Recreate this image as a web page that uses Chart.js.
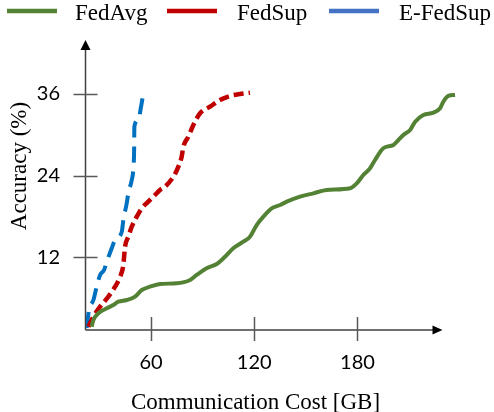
<!DOCTYPE html>
<html>
<head>
<meta charset="utf-8">
<script src="https://cdn.jsdelivr.net/npm/chart.js@4.4.1/dist/chart.umd.min.js"></script>
<style>
  html, body { margin: 0; padding: 0; background: #fff; }
  #wrap { width: 494px; height: 412px; }
</style>
</head>
<body>
<div id="wrap"><canvas id="chart"></canvas></div>
<script>
// Valores (custo em GB, acurácia em %)
const seriesNames = ['FedAvg', 'FedSup', 'E-FedSup'];

const fedAvgCost = [25.5, 26.5, 29.4, 34.3, 38.1, 41.0, 45.9, 50.7, 54.6, 59.4, 65.2, 74.9, 82.7, 86.5, 92.3, 98.2, 103.0, 107.8, 113.6, 117.5, 121.4, 125.3, 130.1, 135.0, 138.9, 146.6, 154.4, 162.1, 175.7, 179.6, 183.4, 187.3, 190.2, 195.0, 200.9, 203.8, 206.7, 210.6, 213.5, 218.3, 224.1, 228.0, 229.9, 232.8, 236.7];
const fedAvgAcc  = [1.85, 2.83, 3.81, 4.54, 5.03, 5.51, 5.76, 6.25, 7.23, 7.71, 8.11, 8.21, 8.7, 9.43, 10.41, 11.04, 12.11, 13.35, 14.31, 15.05, 16.76, 17.98, 19.21, 19.7, 20.18, 20.92, 21.41, 21.9, 22.15, 22.88, 24.1, 25.08, 26.3, 28.02, 28.5, 29.23, 29.97, 30.7, 31.92, 32.9, 33.24, 33.88, 34.85, 35.69, 35.83];

const fedSupCost = [23.6, 26.5, 30.4, 35.2, 39.1, 42.0, 43.9, 44.9, 46.8, 48.8, 51.7, 54.6, 58.4, 62.3, 65.2, 68.1, 73.0, 75.9, 77.8, 78.8, 81.7, 84.6, 88.5, 94.3, 100.1, 105.9, 111.7, 117.5];
const fedSupAcc  = [1.85, 3.31, 4.78, 6.25, 7.71, 9.18, 10.9, 13.58, 15.05, 16.51, 17.98, 19.21, 20.18, 21.16, 21.9, 22.38, 23.85, 25.32, 26.78, 28.25, 29.72, 31.43, 33.15, 34.12, 35.1, 35.69, 35.98, 36.17];

const eFedSupCost = [22.6, 23.97, 26.5, 28.4, 30.4, 32.7, 34.3, 37.2, 39.1, 43.0, 43.9, 45.9, 46.8, 48.8, 49.8, 50.2, 50.3, 52.6, 54.2, 55.5, 57.5];
const eFedSupAcc  = [1.65, 4.29, 5.76, 7.71, 9.43, 10.16, 11.38, 13.39, 14.56, 15.78, 17.5, 19.99, 21.46, 23.37, 25.32, 28.25, 31.18, 32.17, 34.12, 35.83, 36.32];

const xTicks = [60, 120, 180];
const yTicks = [12, 24, 36];

const lineColors   = ['#548235', '#C00000', '#0070C0'];
const legendColors = ['#548235', '#C00000', '#4472C4'];

const toPoints = (xs, ys) => xs.map((x, i) => ({ x, y: ys[i] }));

const serif = "'Liberation Serif', 'Times New Roman', serif";
const sans  = "Lato, 'Open Sans', sans-serif";

// Eixos com setas, marcas, legenda e títulos desenhados à mão
const decorPlugin = {
    id: 'decor',
    beforeDatasetsDraw: (chart) => {
        const { ctx, chartArea, scales } = chart;
        const x0 = 85.5, y0 = 330;
        ctx.save();
        ctx.strokeStyle = '#404040';
        ctx.lineWidth = 1.5;
        ctx.beginPath();
        ctx.moveTo(x0, y0);
        ctx.lineTo(x0, 48);
        ctx.moveTo(x0, y0);
        ctx.lineTo(434, y0);
        ctx.stroke();

        // marcas
        ctx.strokeStyle = '#595959';
        ctx.beginPath();
        yTicks.forEach(v => {
            const py = Math.round(scales.y.getPixelForValue(v)) + 0.5;
            ctx.moveTo(73.5, py);
            ctx.lineTo(97.5, py);
        });
        xTicks.forEach(v => {
            const px = Math.round(scales.x.getPixelForValue(v)) + 0.5;
            ctx.moveTo(px, 317);
            ctx.lineTo(px, 341);
        });
        ctx.stroke();

        // pontas de seta
        ctx.fillStyle = '#000';
        ctx.beginPath();
        ctx.moveTo(x0, 40);
        ctx.lineTo(x0 - 5, 50);
        ctx.lineTo(x0 + 5, 50);
        ctx.closePath();
        ctx.fill();
        ctx.beginPath();
        ctx.moveTo(442.5, y0);
        ctx.lineTo(432.5, y0 - 4.5);
        ctx.lineTo(432.5, y0 + 4.5);
        ctx.closePath();
        ctx.fill();
        ctx.restore();
    },
    afterDraw: (chart) => {
        const { ctx } = chart;
        ctx.save();

        // legenda
        const boxX  = [7, 167, 329];
        const textX = [75, 237, 399];
        ctx.font = '23px ' + serif;
        ctx.textBaseline = 'alphabetic';
        ctx.textAlign = 'left';
        seriesNames.forEach((name, i) => {
            ctx.strokeStyle = legendColors[i];
            ctx.lineWidth = 4.5;
            ctx.beginPath();
            ctx.moveTo(boxX[i], 11);
            ctx.lineTo(boxX[i] + 50, 11);
            ctx.stroke();
            ctx.fillStyle = '#000';
            ctx.fillText(name, textX[i], 19.5);
        });

        // títulos dos eixos
        ctx.fillStyle = '#000';
        ctx.textAlign = 'center';
        ctx.fillText('Communication Cost [GB]', 255.5, 408.5);
        ctx.translate(26, 166);
        ctx.rotate(-Math.PI / 2);
        ctx.fillText('Accuracy (%)', 0, 0);
        ctx.restore();
    }
};

new Chart(document.getElementById('chart'), {
    type: 'line',
    plugins: [decorPlugin],
    data: {
        datasets: [
            {
                label: seriesNames[0],
                data: toPoints(fedAvgCost, fedAvgAcc),
                borderColor: lineColors[0],
                borderWidth: 4,
                cubicInterpolationMode: 'monotone',
                pointRadius: 0
            },
            {
                label: seriesNames[1],
                data: toPoints(fedSupCost, fedSupAcc),
                borderColor: lineColors[1],
                borderWidth: 4.5,
                borderDash: [10, 5],
                cubicInterpolationMode: 'monotone',
                pointRadius: 0
            },
            {
                label: seriesNames[2],
                data: toPoints(eFedSupCost, eFedSupAcc),
                borderColor: lineColors[2],
                borderWidth: 4,
                borderDash: [16, 9],
                cubicInterpolationMode: 'monotone',
                pointRadius: 0
            }
        ]
    },
    options: {
        responsive: true,
        maintainAspectRatio: false,
        animation: false,
        events: [],
        layout: { padding: { top: 40, right: 24, left: 0, bottom: 0 } },
        plugins: {
            legend: { display: false },
            tooltip: { enabled: false }
        },
        scales: {
            x: {
                type: 'linear',
                min: 22.2,
                max: 245.4,
                grid: { display: false, drawTicks: false },
                border: { display: false },
                afterBuildTicks: (s) => { s.ticks = xTicks.map(v => ({ value: v })); },
                afterFit: (s) => { s.height = 82; },
                ticks: {
                    autoSkip: false,
                    maxRotation: 0,
                    padding: 21,
                    color: '#000',
                    font: { family: sans, size: 20 }
                }
            },
            y: {
                type: 'linear',
                min: 1.36,
                max: 43.9,
                grid: { display: false, drawTicks: false },
                border: { display: false },
                afterBuildTicks: (s) => { s.ticks = yTicks.map(v => ({ value: v })); },
                afterFit: (s) => { s.width = 86; },
                ticks: {
                    autoSkip: false,
                    padding: 26,
                    color: '#000',
                    font: { family: sans, size: 20 }
                }
            }
        }
    }
});
</script>
</body>
</html>
